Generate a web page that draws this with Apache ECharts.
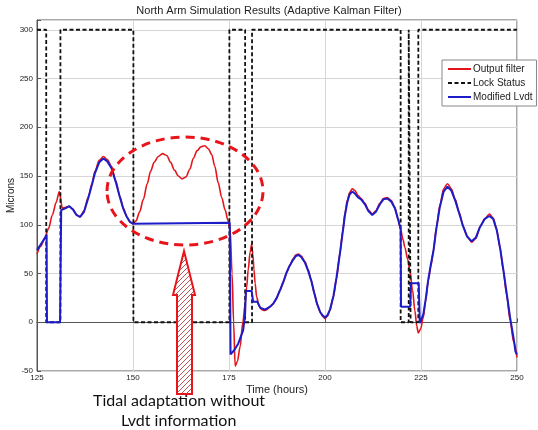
<!DOCTYPE html>
<html>
<head>
<meta charset="utf-8">
<script src="https://cdn.jsdelivr.net/npm/echarts@6/dist/echarts.min.js"></script>
<style>
  html, body { margin: 0; padding: 0; background: #fff; }
  #chart { width: 538px; height: 430px; }
</style>
</head>
<body>
<div id="chart"></div>
<script>
// Sortie du filtre (rouge)
const filterPoints = [
  [125, 70], [126, 78], [127, 86], [128, 96], [129, 110], [130, 123], [130.8, 134],
  [131.6, 117], [132.5, 118], [133.4, 119], [134.3, 116], [135.3, 110], [136.2, 108],
  [137.2, 114], [138.4, 129], [139.3, 142], [140.1, 155], [141.2, 166], [142.3, 170],
  [143.3, 167], [144.4, 160], [145.5, 145], [146.6, 129], [147.5, 117], [148.4, 108],
  [149.2, 103], [150, 101], [150.8, 104], [151.7, 113], [152.7, 126], [153.7, 142],
  [154.6, 155], [155.5, 164], [156.6, 170], [157.7, 173], [158.8, 171], [159.8, 164],
  [160.8, 156], [161.8, 150], [162.8, 147], [163.8, 149], [164.8, 157], [165.7, 168],
  [166.7, 176], [167.7, 180], [168.7, 181], [169.6, 178], [170.5, 172], [171.3, 160],
  [172.2, 143], [173.1, 128], [174, 115], [174.7, 105], [175.3, 95], [175.8, 50],
  [176.2, 0], [176.6, -45], [177.2, -40], [177.9, -25], [178.6, 0], [179.2, 19],
  [179.6, 36], [180, 54], [180.5, 72], [180.9, 80], [181.2, 70], [181.5, 54],
  [181.8, 40], [182.2, 26], [182.8, 17], [183.5, 13], [184.2, 12], [184.9, 13],
  [185.7, 16], [186.5, 19], [187.3, 24], [188.3, 33], [189.2, 42], [190, 51],
  [190.8, 58], [191.7, 65], [192.4, 69], [193.1, 70], [193.8, 68], [194.8, 62],
  [195.6, 54], [196.4, 43], [197.2, 30], [198, 18], [198.8, 10], [199.4, 6],
  [200, 4], [200.6, 6], [201.3, 12], [202.2, 26], [203, 45], [203.9, 71],
  [204.6, 93], [205.2, 112], [205.8, 125], [206.4, 133], [207.1, 137], [207.8, 135],
  [208.6, 130], [209.4, 127], [210.4, 122], [211.3, 115], [212.3, 111], [213.2, 114],
  [214.3, 122], [215.2, 127], [216.2, 128], [217.2, 125], [218.2, 118], [219, 106],
  [219.7, 95], [220.3, 85], [220.8, 77], [221.5, 65], [222.1, 53], [222.8, 33],
  [223.4, 12], [223.9, -4], [224.3, -11], [224.9, -7], [225.6, 5], [226.2, 22],
  [226.9, 43], [227.6, 58], [228.2, 73], [229, 97], [229.9, 120], [230.9, 137],
  [231.9, 142], [232.9, 137], [233.9, 126], [235, 112], [236, 98], [237, 88],
  [238.2, 82], [239.3, 86], [240.4, 98], [241.6, 106], [242.8, 111], [243.8, 107],
  [244.7, 95], [245.6, 76], [246.4, 54], [247.3, 28], [248.2, 2], [249.1, -20],
  [250, -36]
];

// Lvdt modifié (bleu)
const lvdtPoints = [
  [125, 74], [126, 80], [127, 86], [127.5, 90], [127.6, 0], [131, 0], [131.3, 115],
  [132.5, 117], [133.4, 119], [134.3, 116], [135.3, 110], [136.2, 108], [137.2, 113],
  [138.4, 128], [139.3, 141], [140.1, 153], [141.2, 164], [142.3, 168], [143.3, 165],
  [144.4, 158], [145.5, 144], [146.6, 128], [147.5, 116], [148.4, 108], [149.2, 103],
  [150, 101], [150.2, 102], [175.2, 102], [175.4, -33], [176.3, -29], [177.4, -22],
  [178.7, -8], [179.2, 9], [179.4, 32], [180.9, 32], [181.3, 21], [182.4, 21],
  [183.1, 15], [184.4, 13], [185.7, 16], [186.5, 19], [187.3, 24], [188.3, 33],
  [189.2, 42], [190, 51], [190.8, 58], [191.7, 64], [192.4, 68], [193.1, 69],
  [193.8, 67], [194.8, 61], [195.6, 53], [196.4, 43], [197.2, 30], [198, 18],
  [198.8, 10], [199.4, 7], [200, 5], [200.6, 7], [201.3, 13], [202.2, 27],
  [203, 46], [203.9, 71], [204.6, 92], [205.2, 110], [205.8, 123], [206.4, 131],
  [207.1, 134], [207.8, 132], [208.6, 128], [209.4, 126], [210.4, 121], [211.3, 114],
  [212.3, 110], [213.2, 113], [214.3, 121], [215.2, 126], [216.2, 127], [217.2, 124],
  [218.2, 117], [219, 106], [219.7, 96], [219.8, 16], [222.2, 16], [222.4, 40],
  [224.4, 40], [224.7, -1], [225.6, 8], [226.2, 23], [226.9, 44], [227.6, 60],
  [228.2, 72], [229, 96], [229.9, 118], [230.9, 134], [231.9, 139], [232.9, 135],
  [233.9, 125], [235, 111], [236, 98], [237, 88], [238.2, 83], [239.3, 87],
  [240.4, 98], [241.6, 106], [242.8, 109], [243.8, 106], [244.7, 95], [245.6, 76],
  [246.4, 55], [247.3, 30], [248.2, 5], [249.1, -16], [249.6, -30], [250, -33]
];

// Etat du verrou (marches)
const lockTimes = [125, 127.4, 131.1, 150.1, 175.1, 179.2, 181, 219.7, 221.8, 222.3, 224.3, 250];
const lockValues = [300, 0, 300, 0, 300, 0, 300, 0, 300, 0, 300, 300];

const seriesNames = ['Output filter', 'Lock Status', 'Modified Lvdt'];
const xTicks = { min: 125, max: 250, step: 25 };
const yTicks = { min: -50, max: 310, step: 50 };

const annotationLines = ['Tidal adaptation without', 'Lvdt information'];

// Motif hachuré pour la flèche
function makeHatch() {
  const c = document.createElement('canvas');
  c.width = 5; c.height = 5;
  const ctx = c.getContext('2d');
  ctx.fillStyle = '#fff';
  ctx.fillRect(0, 0, 5, 5);
  ctx.strokeStyle = '#b95555';
  ctx.lineWidth = 1;
  ctx.beginPath();
  ctx.moveTo(0, 5); ctx.lineTo(5, 0);
  ctx.moveTo(-2.5, 2.5); ctx.lineTo(2.5, -2.5);
  ctx.moveTo(2.5, 7.5); ctx.lineTo(7.5, 2.5);
  ctx.stroke();
  return c;
}

const chart = echarts.init(document.getElementById('chart'), null, { renderer: 'canvas' });

const axisFont = { fontFamily: 'Liberation Sans', fontSize: 8, color: '#222' };

chart.setOption({
  animation: false,
  backgroundColor: '#fff',
  title: {
    text: 'North Arm Simulation Results (Adaptive Kalman Filter)',
    left: 'center',
    top: 0,
    textStyle: { fontFamily: 'Liberation Sans', fontSize: 11, fontWeight: 'normal', color: '#222' }
  },
  legend: {
    orient: 'vertical',
    left: 442,
    top: 60,
    padding: [4, 4, 4, 5],
    itemGap: 4,
    itemWidth: 23,
    itemHeight: 10,
    backgroundColor: '#fff',
    borderColor: '#888',
    borderWidth: 1,
    borderRadius: 0,
    itemStyle: { opacity: 0 },
    data: seriesNames,
    textStyle: { fontFamily: 'Liberation Sans', fontSize: 10, color: '#222', padding: [0, 0, 0, -3] }
  },
  grid: {
    left: 37, top: 20, width: 480, height: 351,
    containLabel: false,
    outerBoundsMode: 'none',
    show: true, borderColor: '#555', borderWidth: 1, backgroundColor: 'transparent'
  },
  xAxis: {
    type: 'value',
    min: xTicks.min, max: xTicks.max, interval: xTicks.step,
    name: 'Time (hours)',
    nameLocation: 'middle',
    nameGap: 13,
    nameMoveOverlap: false,
    nameTextStyle: { fontFamily: 'Liberation Sans', fontSize: 11, color: '#222' },
    axisLine: { show: true, lineStyle: { color: '#555' } },
    axisTick: { show: true, inside: true, length: 4, lineStyle: { color: '#555' } },
    axisLabel: { ...axisFont, margin: 3 },
    splitLine: { show: true, lineStyle: { color: '#d6d6d6', width: 1 } }
  },
  yAxis: {
    type: 'value',
    min: yTicks.min, max: yTicks.max, interval: yTicks.step,
    name: 'Microns',
    nameLocation: 'middle',
    nameGap: 21,
    nameMoveOverlap: false,
    nameTextStyle: { fontFamily: 'Liberation Sans', fontSize: 10, color: '#222' },
    axisLine: { show: true, lineStyle: { color: '#555' } },
    axisTick: { show: true, inside: true, length: 4, lineStyle: { color: '#555' } },
    axisLabel: {
      ...axisFont, margin: 4,
      formatter: v => (v % 50 === 0 ? String(v) : '')
    },
    splitLine: { show: true, lineStyle: { color: '#d6d6d6', width: 1 } }
  },
  series: [
    {
      name: seriesNames[0],
      type: 'line',
      data: filterPoints,
      symbol: 'none',
      smooth: 0.3,
      smoothMonotone: 'x',
      lineStyle: { color: '#e3151b', width: 1.6 },
      itemStyle: { color: '#e3151b' },
      z: 2
    },
    {
      name: seriesNames[1],
      type: 'line',
      data: lockTimes.map((t, i) => [t, lockValues[i]]),
      step: 'end',
      symbol: 'none',
      lineStyle: { color: '#111', width: 1.8, type: [4, 2.5] },
      itemStyle: { color: '#111' },
      z: 3
    },
    {
      name: seriesNames[2],
      type: 'line',
      data: lvdtPoints,
      symbol: 'none',
      lineStyle: { color: '#1c1cc8', width: 2 },
      itemStyle: { color: '#1c1cc8' },
      z: 4
    }
  ],
  graphic: [
    {
      type: 'ellipse',
      shape: { cx: 185, cy: 191, rx: 78, ry: 54 },
      style: { fill: null, stroke: '#e8141a', lineWidth: 3, lineDash: [9, 6] },
      z: 10
    },
    {
      type: 'polygon',
      shape: {
        points: [[184, 251], [195, 295], [192, 295], [192, 394], [177, 394], [177, 295], [173, 295]]
      },
      style: { fill: { image: makeHatch(), repeat: 'repeat' }, stroke: '#e8141a', lineWidth: 2 },
      z: 10
    },
    {
      type: 'text',
      left: 93, top: 393,
      style: {
        text: annotationLines[0],
        font: '16px "Comic Sans MS", Lato, sans-serif',
        fill: '#111'
      },
      z: 11
    },
    {
      type: 'text',
      left: 121, top: 413,
      style: {
        text: annotationLines[1],
        font: '16px "Comic Sans MS", Lato, sans-serif',
        fill: '#111'
      },
      z: 11
    }
  ]
});
</script>
</body>
</html>
